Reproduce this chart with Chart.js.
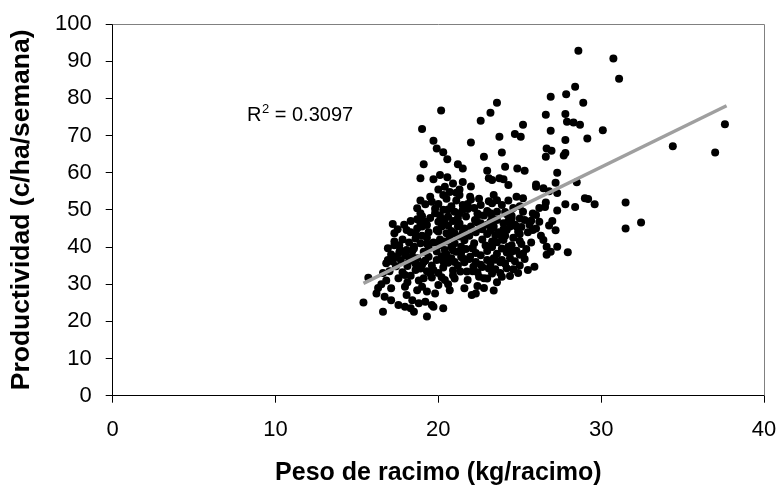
<!DOCTYPE html>
<html><head><meta charset="utf-8">
<script src="https://cdn.jsdelivr.net/npm/chart.js@4.4.1/dist/chart.umd.min.js"></script>
<style>html,body{margin:0;padding:0;background:#fff}</style>
</head><body>
<canvas id="c" width="777" height="491"></canvas>
<script>
// Peso de racimo (x) / Productividad (y), grouped by region
const pesoUpper = [28.6,30.75,31.1,28.4,27.85,28.9,27.8,27.9,28.3,28.7,30.1,29.15,27.8,27.8,34.4,37.0,37.6,28.5,27.8,28.4,29.0,29.2,29.6,31.5,31.5,32.45,27.95];
const prodUpper = [92.8,90.7,85.3,83.1,81.1,78.8,75.8,73.7,73.5,72.9,71.4,69.2,68.8,65.3,67.1,65.4,73.0,57.4,51.5,50.8,53.1,52.9,51.5,52.0,45.0,46.6,38.6];

const pesoMidHigh = [20.17,23.6,23.2,22.6,26.9,26.6,25.2,24.7,25.06,26.9,19.0,23.75,19.7,22.0,19.9,20.3,20.55,26.65,26.95,27.7,26.6,23.9,22.8,19.1,21.2,21.5,24.1,24.85,25.3,23.0,27.3,18.9,19.7,20.1,20.55,20.9,21.5,23.1,23.75,24.0,26.0,27.2];
const prodMidHigh = [76.7,78.8,76.1,74.0,80.4,75.6,72.9,70.4,69.7,71.3,71.75,69.7,68.6,68.1,66.5,65.5,63.6,66.5,65.9,64.6,64.3,65.4,64.3,62.3,62.3,61.1,61.6,61.1,60.5,60.5,60.0,58.5,58.2,59.4,58.8,57.1,57.5,58.5,58.5,58.2,56.8,57.3];

const pesoLeft = [20.4,20.3,21.1,19.6,20.0,18.7,18.9,19.8,20.3,20.6,21.0,18.7,19.2,17.2,18.05,19.0,19.3,17.3,18.6,19.9,20.2,20.5,21.0,21.2,16.9,17.3,17.65,18.05,18.5,18.9,19.1,19.4,20.1,20.4,20.8,21.1,21.4,18.4,18.7];
const prodLeft = [56.2,54.0,54.6,52.2,51.6,50.4,49.1,49.1,50.0,48.2,49.5,47.5,46.8,46.2,44.6,45.5,45.9,43.7,42.3,44.6,45.5,43.7,43.7,45.5,39.7,40.5,39.2,39.2,40.1,41.0,38.7,37.4,40.5,39.2,40.1,38.7,40.1,37.4,37.0];

const pesoLow = [15.7,15.4,16.8,17.2,17.7,17.55,17.95,16.5,17.1,16.2,16.7,17.1,17.95,18.05,17.55,17.95,18.3,18.5,16.6,18.4,18.8,19.2,19.6,20.3,19.3,18.7,19.0,19.3,19.1,19.5,18.6,19.0,20.0,20.4,20.7,19.8,19.7];
const prodLow = [31.7,25.1,35.6,36.1,36.5,31.6,32.5,30.0,28.9,27.5,26.6,25.7,29.3,27.1,24.4,23.9,23.5,22.6,22.6,25.7,24.9,25.3,24.4,23.5,21.3,28.4,29.3,28.0,31.6,32.9,33.8,35.2,29.8,31.1,28.4,27.5,23.9];

const pesoRight = [23.3,24.3,24.8,25.2,26.0,26.45,21.95,23.4,21.3,21.5,22.6,23.3,23.2,26.55,27.3,26.0,24.5,25.0,25.3,25.7,21.3,21.7,22.25,22.6,23.2,23.6,24.0,24.4,24.9,25.8,23.5,24.0,26.45,26.65,27.3,26.9];
const prodRight = [58.0,56.7,53.5,53.1,56.2,55.8,53.5,54.0,54.0,51.3,51.3,51.8,49.1,50.8,49.8,48.6,47.7,47.7,47.3,47.1,49.1,48.2,47.3,46.4,46.8,47.3,46.4,45.5,44.1,44.6,43.2,41.9,41.9,40.1,40.1,38.7];

const pesoBand = [21.8,21.6,22.05,25.9,25.0,26.65,21.5,21.95,22.6,23.0,23.4,23.9,24.4,24.2,23.9,23.3,22.8,22.15,21.75,21.35];
const prodBand = [31.1,28.9,27.1,34.7,37.9,37.9,37.0,37.4,35.2,36.5,37.0,36.5,37.0,34.3,32.0,32.9,31.6,34.7,33.4,33.4];

const pesoCoreA = [17.0,17.4,18.2,18.6,17.1,17.6,18.0,18.4,17.3,17.8,18.2,18.6,19.0,17.5,17.9,18.3,16.9,16.6,16.8,18.3,18.8,19.3,19.6,19.9,19.4,19.7,19.3,18.7,19.5,19.8,19.2,19.5,18.9];
const prodCoreA = [33.5,34.8,36.2,35.5,38.0,38.5,37.8,38.9,41.5,42.0,41.2,43.5,43.0,44.8,46.0,47.0,36.5,33.0,31.0,32.3,31.0,33.5,35.0,36.5,39.8,41.2,42.5,45.0,47.8,50.3,51.5,53.5,52.5];

const pesoCoreB = [20.0,20.3,20.6,20.9,21.2,21.0,20.2,20.5,20.8,21.4,21.7,22.3,22.3,20.1,20.4,20.7,21.0,21.3,21.6,21.9,22.2,20.2,20.6,20.9,21.3,21.6,22.0,22.3,20.1,20.4,20.8,21.1,21.5,22.2,22.0,20.5,20.0,21.3,22.1,22.5,22.7,21.0,20.6,22.4];
const prodCoreB = [33.0,34.5,35.8,33.7,35.0,36.0,37.5,38.0,37.0,38.5,39.5,38.4,36.0,42.0,41.5,42.5,41.0,42.8,41.8,43.0,41.0,46.5,45.8,47.0,46.3,45.0,45.5,44.0,48.5,47.5,51.0,52.5,50.0,50.5,52.8,53.0,55.5,55.5,33.5,32.0,34.6,31.5,30.0,29.5];

const pesoCoreC = [22.6,23.2,23.5,23.8,24.1,24.6,24.7,25.0,25.3,23.0,23.3,23.6,23.9,24.2,24.5,24.8,25.1,25.4,25.7,22.7,23.0,23.3,23.7,24.1,24.6,25.0,25.5,26.0,22.6,23.0,23.4,24.3,24.7,25.6,26.2,22.8,23.6,24.2,24.6,25.2,25.8,23.9,24.3,25.0,22.5,23.1,23.0,23.6,24.4,24.9,25.5,22.3,22.8,23.4,26.2,26.6,26.3,27.0,26.8,27.3,26.8,27.2];
const prodCoreC = [37.8,35.4,34.0,33.0,35.5,34.0,36.2,35.0,36.8,38.9,40.0,38.2,39.6,38.5,40.5,39.0,40.8,39.5,41.2,42.0,43.5,41.5,44.0,43.0,42.5,43.5,44.0,45.0,45.0,46.0,45.5,47.0,46.0,46.0,46.8,48.5,49.5,48.8,50.5,49.5,49.0,51.3,52.5,51.0,53.0,52.3,31.5,30.5,32.2,33.0,33.8,27.5,29.0,28.3,50.5,52.0,43.0,47.0,55.0,54.5,45.8,44.5];

const pesoCoreD = [17.8,18.1,18.9,19.6,20.2,20.9,21.6,22.4,23.1,23.8,24.5,25.2,19.2,19.9,20.6,21.4,22.1,22.9,23.6,24.3,25.0,18.5,19.3,20.0,20.8,21.6,22.4,23.2,24.0,24.8,21.8,22.5,23.3,24.1,19.0,20.7,22.0,17.4,16.3,18.1];
const prodCoreD = [33.2,34.9,34.2,31.8,31.9,32.4,35.9,33.2,34.2,35.9,38.7,38.2,36.4,38.8,36.7,37.4,39.8,40.4,41.3,40.1,41.6,39.6,40.9,44.2,44.3,43.6,46.6,44.4,44.8,45.5,50.2,48.6,47.9,49.4,48.3,54.8,56.3,37.3,29.0,30.5];

const pesoCoreE = [19.1,19.7,20.3,20.9,21.5,22.1,22.7,23.3,23.9,24.5,25.1,19.4,20.0,20.6,21.2,21.8,22.4,23.0,23.6,24.2,18.3,18.9,17.6,21.9,23.5];
const prodCoreE = [36.0,33.8,36.1,39.1,43.9,39.6,44.8,45.0,42.7,48.4,45.4,44.0,46.8,50.1,47.8,51.6,49.0,49.7,52.6,44.6,44.0,46.3,40.5,36.8,36.6];

// Trend line end points as drawn in the picture
const trendX = [15.4, 37.7];
const trendY = [30.2, 78.0];

const xTickValues = [0, 10, 20, 30, 40];
const yTickValues = [0, 10, 20, 30, 40, 50, 60, 70, 80, 90, 100];
const r2Value = '0.3097';

const pesoRacimo = [].concat(pesoUpper, pesoMidHigh, pesoLeft, pesoLow, pesoRight, pesoBand, pesoCoreA, pesoCoreB, pesoCoreC, pesoCoreD, pesoCoreE);
const productividad = [].concat(prodUpper, prodMidHigh, prodLeft, prodLow, prodRight, prodBand, prodCoreA, prodCoreB, prodCoreC, prodCoreD, prodCoreE);

const FONT = '"Liberation Sans", Arial, Helvetica, sans-serif';

const frame = {
  id: 'frame',
  afterDraw(chart) {
    const {ctx, chartArea: a, scales: {x, y}} = chart;
    ctx.save();
    ctx.strokeStyle = '#808080';
    ctx.lineWidth = 1;
    ctx.beginPath();
    ctx.moveTo(a.left, a.top + 0.5);
    ctx.lineTo(a.right + 0.5, a.top + 0.5);
    ctx.lineTo(a.right + 0.5, a.bottom);
    ctx.stroke();
    // R² label
    const px = x.getPixelForValue(8.25);
    const py = y.getPixelForValue(73.9);
    ctx.fillStyle = '#000';
    ctx.textBaseline = 'alphabetic';
    ctx.textAlign = 'left';
    ctx.font = '20px ' + FONT;
    ctx.fillText('R', px, py);
    const w = ctx.measureText('R').width;
    ctx.font = '13px ' + FONT;
    ctx.fillText('2', px + w + 0.5, py - 8);
    const w2 = ctx.measureText('2').width;
    ctx.font = '20px ' + FONT;
    ctx.fillText(' = ' + r2Value, px + w + w2 + 0.5, py);
    ctx.restore();
  }
};

new Chart(document.getElementById('c'), {
  type: 'scatter',
  data: {
    datasets: [
      {
        data: trendX.map((v, i) => ({x: v, y: trendY[i]})),
        showLine: true,
        borderColor: '#9f9f9f',
        borderWidth: 3.5,
        pointRadius: 0,
        fill: false,
        order: 0
      },
      {
        data: pesoRacimo.map((v, i) => ({x: v, y: productividad[i]})),
        backgroundColor: '#000',
        borderColor: '#000',
        borderWidth: 0,
        pointRadius: 4,
        order: 1
      }
    ]
  },
  options: {
    responsive: false,
    animation: false,
    plugins: {legend: {display: false}, tooltip: {enabled: false}},
    layout: {padding: {top: 24, right: 13, left: 0, bottom: 0}},
    scales: {
      x: {
        type: 'linear', min: 0, max: 40,
        afterBuildTicks: s => { s.ticks = xTickValues.map(v => ({value: v})); },
        afterFit: s => { s.height = 95.3; s.paddingLeft = 0; s.paddingRight = 0; },
        grid: {drawOnChartArea: false, drawTicks: true, tickLength: 7, color: '#000'},
        border: {color: '#000', width: 1},
        ticks: {color: '#000', font: {family: FONT, size: 22}, padding: 14},
        title: {display: true, text: 'Peso de racimo (kg/racimo)', color: '#000',
                font: {family: FONT, size: 25, weight: 'bold'}, padding: {top: 0, bottom: 3}}
      },
      y: {
        type: 'linear', min: 0, max: 100,
        afterBuildTicks: s => { s.ticks = yTickValues.map(v => ({value: v})); },
        afterFit: s => { s.width = 112.7; s.paddingTop = 0; s.paddingBottom = 0; },
        grid: {drawOnChartArea: false, drawTicks: true, tickLength: 7, color: '#000'},
        border: {color: '#000', width: 1},
        ticks: {color: '#000', font: {family: FONT, size: 22}, padding: 14},
        title: {display: true, text: 'Productividad (c/ha/semana)', color: '#000',
                font: {family: FONT, size: 26.5, weight: 'bold'}, padding: {top: 6, bottom: 0}}
      }
    }
  },
  plugins: [frame]
});
</script>
</body></html>
